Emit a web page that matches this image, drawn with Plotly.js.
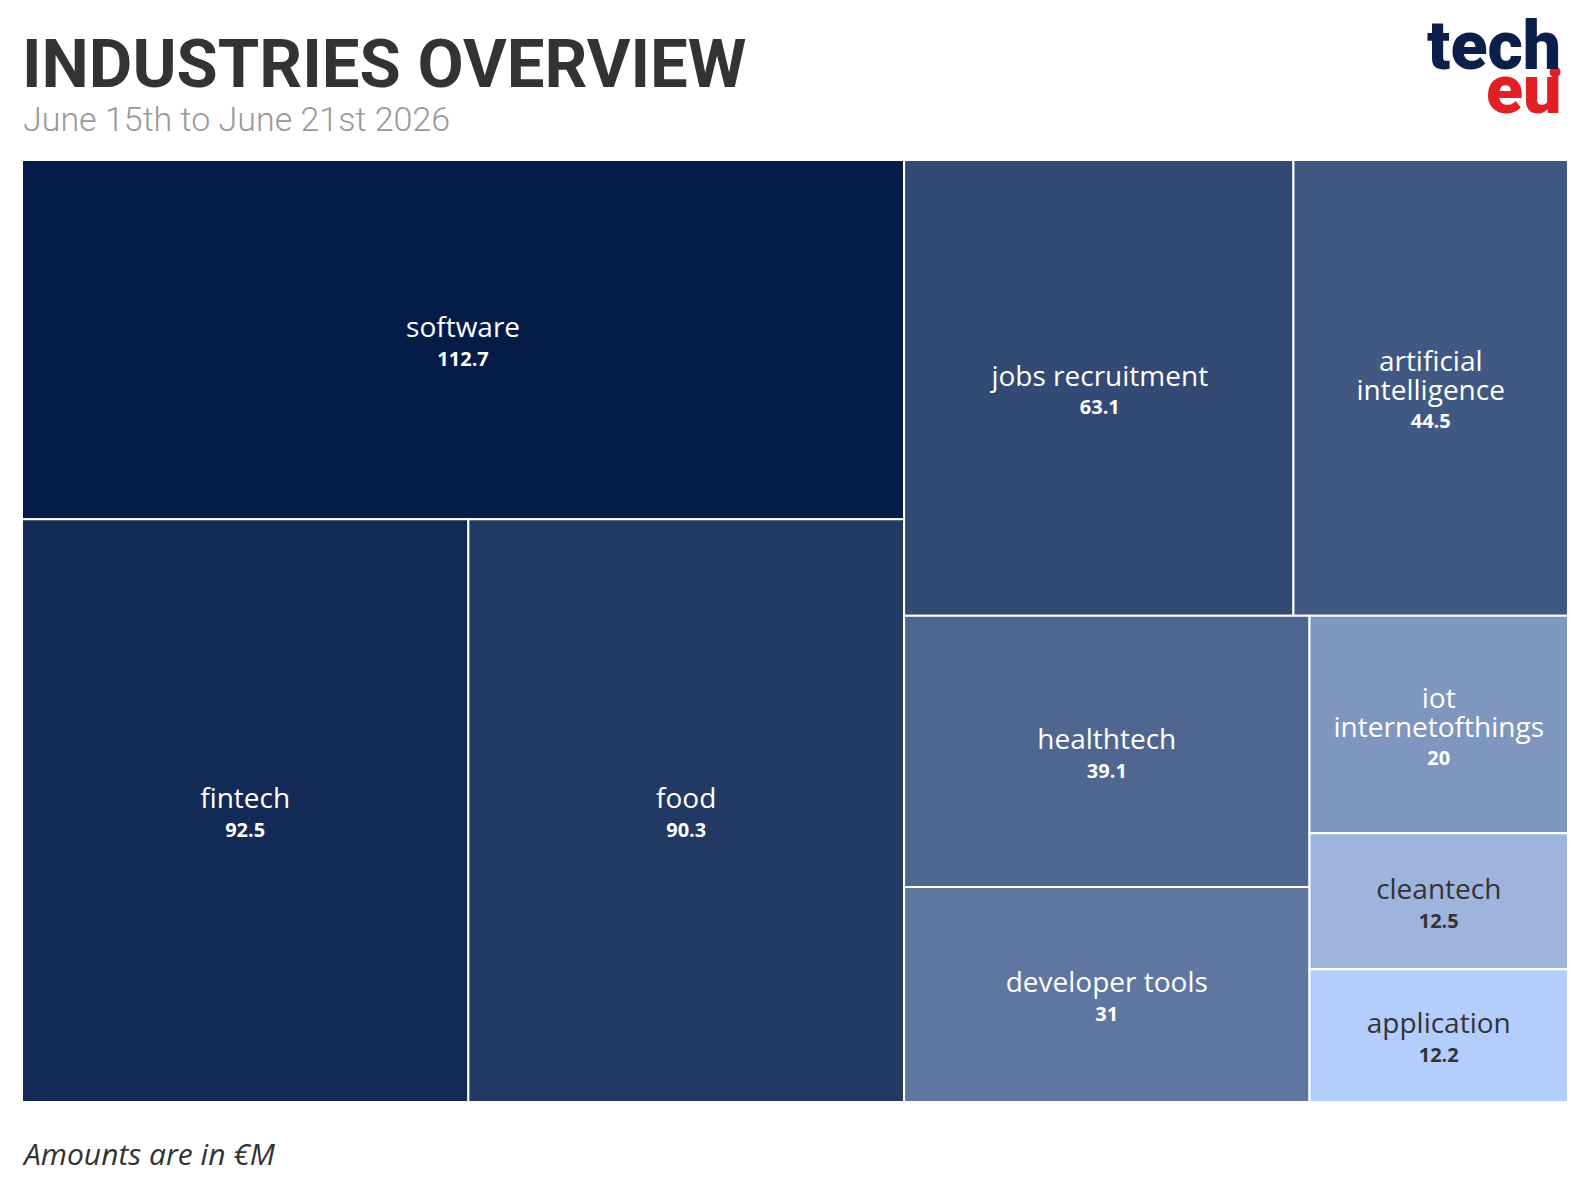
<!DOCTYPE html>
<html>
<head>
<meta charset="utf-8">
<script src="https://cdn.plot.ly/plotly-3.0.1.min.js"></script>
<style>
  html, body { margin: 0; padding: 0; background: #ffffff; }
  #chart { width: 1588px; height: 1190px; }
</style>
</head>
<body>
<div id="chart"></div>
<script>
// ---- data ----
const labels = ["software", "fintech", "food", "jobs recruitment", "artificial intelligence",
                "healthtech", "developer tools", "iot internetofthings", "cleantech", "application"];
const values = [112.7, 92.5, 90.3, 63.1, 44.5, 39.1, 31, 20, 12.5, 12.2];
const parents = labels.map(() => "");

// ---- styling ----
const tileColors = ["#051c48", "#142a56", "#223964", "#324a74", "#405882",
                    "#4f6690", "#5e76a0", "#7f96bf", "#9fb4dd", "#b3cdfc"];
const textColors = ["#ffffff", "#ffffff", "#ffffff", "#ffffff", "#ffffff",
                    "#ffffff", "#ffffff", "#ffffff", "#333333", "#333333"];
const displayText = labels.map(l => l.length > 18 ? l.replace(" ", "<br>") : l);

const W = 1588, H = 1190;
const M = { l: 22, r: 20, t: 160, b: 88 };
const pw = W - M.l - M.r, ph = H - M.t - M.b;
const px = v => (v - M.l) / pw;
const py = v => (H - M.b - v) / ph;

const trace = {
  type: "treemap",
  labels: labels,
  parents: parents,
  values: values,
  text: displayText,
  sort: true,
  branchvalues: "remainder",
  texttemplate: "<span style='font-size:28px'>%{text}</span><br><span style='font-size:20px'><b>%{value}</b></span>",
  textposition: "middle center",
  textfont: { family: "Open Sans, Noto Sans, sans-serif", size: 22, color: textColors },
  marker: {
    colors: tileColors,
    line: { color: "#ffffff", width: 2 },
    pad: { t: 0, l: 0, r: 0, b: 0 }
  },
  tiling: { packing: "binary", pad: 0 },
  pathbar: { visible: false },
  hoverinfo: "label+value"
};

const layout = {
  width: W,
  height: H,
  margin: M,
  paper_bgcolor: "#ffffff",
  plot_bgcolor: "#ffffff",
  showlegend: false,
  annotations: [
    {
      text: "<b>INDUSTRIES OVERVIEW</b>", xref: "paper", yref: "paper",
      x: px(20), y: py(64), xanchor: "left", yanchor: "middle", showarrow: false,
      font: { family: "Roboto, Liberation Sans, sans-serif", size: 67, color: "#333333" }
    },
    {
      text: "June 15th to June 21st 2026", xref: "paper", yref: "paper",
      x: px(21), y: py(119), xanchor: "left", yanchor: "middle", showarrow: false,
      font: { family: "Roboto, Liberation Sans, sans-serif", size: 34, color: "#999999", weight: 300 }
    },
    {
      text: "<i>Amounts are in €M</i>", xref: "paper", yref: "paper",
      x: px(20), y: py(1153), xanchor: "left", yanchor: "middle", showarrow: false,
      font: { family: "Open Sans, Noto Sans, sans-serif", size: 30, color: "#333333" }
    },
    {
      text: "tech", xref: "paper", yref: "paper",
      x: px(1563), y: py(46), xanchor: "right", yanchor: "middle", showarrow: false,
      font: { family: "Roboto, sans-serif", size: 68, color: "#0c1f4a", weight: 900 }
    },
    {
      text: "eu", xref: "paper", yref: "paper",
      x: px(1563), y: py(90), xanchor: "right", yanchor: "middle", showarrow: false,
      font: { family: "Roboto, sans-serif", size: 68, color: "#e31e25", weight: 900 }
    }
  ],
  shapes: [
    {
      type: "circle", xref: "paper", yref: "paper",
      x0: px(1549.5), x1: px(1560.5), y0: py(77.5), y1: py(66.5),
      fillcolor: "#e31e25", line: { width: 0 }
    }
  ]
};

Plotly.newPlot("chart", [trace], layout, { displayModeBar: false, staticPlot: true });
</script>
</body>
</html>
